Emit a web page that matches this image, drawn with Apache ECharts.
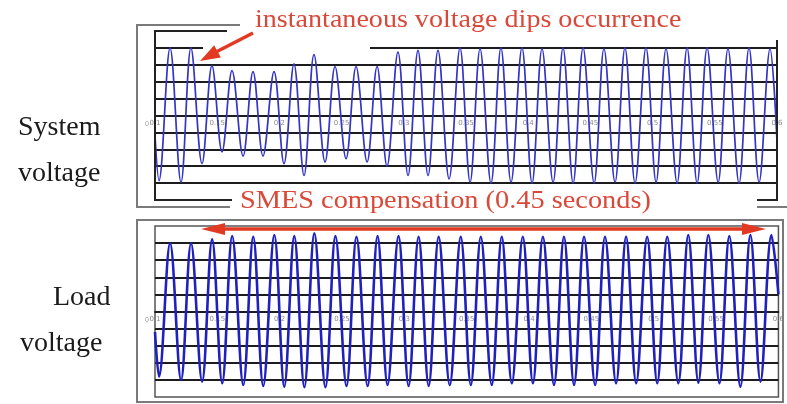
<!DOCTYPE html>
<html><head><meta charset="utf-8">
<script src="https://cdn.jsdelivr.net/npm/echarts@6/dist/echarts.min.js"></script>
<style>html,body{margin:0;padding:0;background:#fff}#c{width:787px;height:404px}</style>
</head><body><div id="c"></div>
<script>
// Time (s) of each waveform crest and trough
const peakTimes = [0.1121,0.1289,0.1458,0.1619,0.1788,0.1957,0.2117,0.2278,0.2447,0.2616,0.2785,0.2953,0.3114,0.3275,0.3452,0.3613,0.3781,0.3950,0.4111,0.4280,0.4441,0.4609,0.4778,0.4947,0.5108,0.5277,0.5438,0.5606,0.5775,0.5944];
const troughTimes = [0.1032,0.1209,0.1378,0.1539,0.1708,0.1868,0.2037,0.2198,0.2367,0.2536,0.2705,0.2865,0.3034,0.3195,0.3364,0.3533,0.3701,0.3862,0.4031,0.4200,0.4361,0.4530,0.4698,0.4859,0.5028,0.5197,0.5358,0.5527,0.5695,0.5856];
const edgeTimes = [0.1, 0.6];
// System voltage (grid units)
const systemPeaks = [4.0,4.0,2.95,2.65,2.6,2.6,3.05,3.6,2.9,2.9,2.9,3.75,3.85,3.85,4.0,3.95,4.0,4.0,3.95,4.0,4.0,3.95,4.0,4.0,3.95,4.0,4.0,3.95,4.0,3.95];
const systemTroughs = [-3.85,-3.95,-2.85,-2.15,-2.4,-2.4,-2.85,-3.55,-2.75,-2.55,-2.75,-3.0,-3.55,-3.55,-3.75,-3.95,-4.0,-3.95,-4.0,-3.95,-4.0,-4.0,-3.95,-4.0,-3.95,-4.0,-4.0,-3.95,-4.0,-3.95];
const systemEdges = [-1.2, -1.5];
// Load voltage (grid units)
const loadPeaks = [3.99,3.99,4.22,4.41,4.37,4.47,4.41,4.57,4.41,4.37,4.41,4.41,4.37,4.37,4.37,4.37,4.37,4.37,4.37,4.37,4.37,4.37,4.37,4.37,4.37,4.47,4.47,4.41,4.47,4.47];
const loadTroughs = [-3.81,-4.01,-4.10,-4.20,-4.30,-4.36,-4.40,-4.43,-4.43,-4.36,-4.36,-4.30,-4.36,-4.36,-4.30,-4.30,-4.30,-4.20,-4.20,-4.30,-4.30,-4.30,-4.20,-4.20,-4.20,-4.20,-4.16,-4.20,-4.40,-4.10];
const loadEdges = [-1.2, 1.0];
const timeLabels = ['0.1','0.15','0.2','0.25','0.3','0.35','0.4','0.45','0.5','0.55','0.6'];

function wave(peaks, troughs, edges) {
  const d = [[edgeTimes[0], edges[0]]];
  for (let i = 0; i < peakTimes.length; i++) {
    d.push([troughTimes[i], troughs[i]]);
    d.push([peakTimes[i], peaks[i]]);
  }
  d.push([edgeTimes[1], edges[1]]);
  return d;
}

const grids = [
  {left:155, top:31, width:622, height:169, show:false},
  {left:155, top:226, width:625, height:171, show:true, borderColor:'#555', borderWidth:1.5}
];

const chart = echarts.init(document.getElementById('c'), null, {renderer:'canvas'});
const gridLine = {show:true, showMinLine:false, showMaxLine:false, lineStyle:{color:'#1c1c1c', width:1.8}};
function xAx(i){ return {gridIndex:i, type:'value', min:0.1, max:0.6, interval:0.05,
  position:'bottom', offset:-grids[i].height/2,
  axisLine:{show:true, onZero:false, lineStyle:{color:'#1c1c1c', width:1.8}}, axisTick:{show:false}, splitLine:{show:false},
  axisLabel:{fontSize:7, color:'#8a8a8a', margin:4, fontFamily:'DejaVu Sans',
    formatter: v => timeLabels[Math.round((v-0.1)/0.05)] || ''}}; }
function yAx(i){ return {gridIndex:i, type:'value', min:-5, max:5, interval:1,
  axisLine:{show:false}, axisTick:{show:false}, splitLine:gridLine,
  axisLabel:{fontSize:7, color:'#999', margin:6, verticalAlign:'top', padding:[5,0,0,0],
    formatter: v => v === 0 ? '0' : ''}}; }

const red = '#e23a22', redText = '#d9493a', gray = '#7a7a7a', ink = '#222';
const serif = 'Liberation Serif, Times New Roman, serif';

chart.setOption({
  animation:false,
  grid:grids,
  xAxis:[xAx(0), xAx(1)],
  yAxis:[yAx(0), yAx(1)],
  series:[
    {type:'line', xAxisIndex:0, yAxisIndex:0, data:wave(systemPeaks, systemTroughs, systemEdges),
     smooth:0.36, symbol:'none', lineStyle:{color:'#3434c6', width:1.7}},
    {type:'line', xAxisIndex:1, yAxisIndex:1, data:wave(loadPeaks, loadTroughs, loadEdges),
     smooth:0.36, symbol:'none', lineStyle:{color:'#2020bf', width:2.6}}
  ],
  graphic:[
    {type:'polyline', z:5, shape:{points:[[240,25],[137,25],[137,207],[230,207]]}, style:{stroke:gray, lineWidth:2, fill:null}},
    {type:'line', z:5, shape:{x1:757,y1:207,x2:787,y2:207}, style:{stroke:gray, lineWidth:2}},
    {type:'polyline', z:5, shape:{points:[[227,31],[155,31],[155,200],[232,200]]}, style:{stroke:ink, lineWidth:2, fill:null}},
    {type:'polyline', z:5, shape:{points:[[777,40],[777,200],[757,200]]}, style:{stroke:ink, lineWidth:2, fill:null}},
    {type:'rect', z:1, shape:{x:203,y:44,width:167,height:8}, style:{fill:'#fff'}},
    {type:'rect', z:5, shape:{x:137,y:220,width:646,height:182}, style:{stroke:gray, lineWidth:2, fill:null}},
    {type:'line', z:10, shape:{x1:253,y1:33,x2:216,y2:52}, style:{stroke:red, lineWidth:3.5}},
    {type:'polygon', z:10, shape:{points:[[200,61],[220.9,57.5],[214.2,45.3]]}, style:{fill:red}},
    {type:'line', z:10, shape:{x1:220,y1:229,x2:748,y2:229}, style:{stroke:red, lineWidth:3.5}},
    {type:'polygon', z:10, shape:{points:[[201,229],[225,223],[225,235]]}, style:{fill:red}},
    {type:'polygon', z:10, shape:{points:[[766,229],[742,223],[742,235]]}, style:{fill:red}},
    {type:'text', z:10, x:255, y:20, scaleX:1.08, style:{text:'instantaneous voltage dips occurrence', font:'26px '+serif, fill:redText, verticalAlign:'middle', align:'left'}},
    {type:'text', z:10, x:240, y:201, scaleX:1.09, style:{text:'SMES compensation (0.45 seconds)', font:'26px '+serif, fill:redText, verticalAlign:'middle', align:'left'}},
    {type:'text', z:10, x:18, y:128, style:{text:'System', font:'28px '+serif, fill:'#1a1a1a', verticalAlign:'middle'}},
    {type:'text', z:10, x:18, y:174, style:{text:'voltage', font:'28px '+serif, fill:'#1a1a1a', verticalAlign:'middle'}},
    {type:'text', z:10, x:53, y:298, style:{text:'Load', font:'28px '+serif, fill:'#1a1a1a', verticalAlign:'middle'}},
    {type:'text', z:10, x:20, y:344, style:{text:'voltage', font:'28px '+serif, fill:'#1a1a1a', verticalAlign:'middle'}}
  ]
});
</script></body></html>
